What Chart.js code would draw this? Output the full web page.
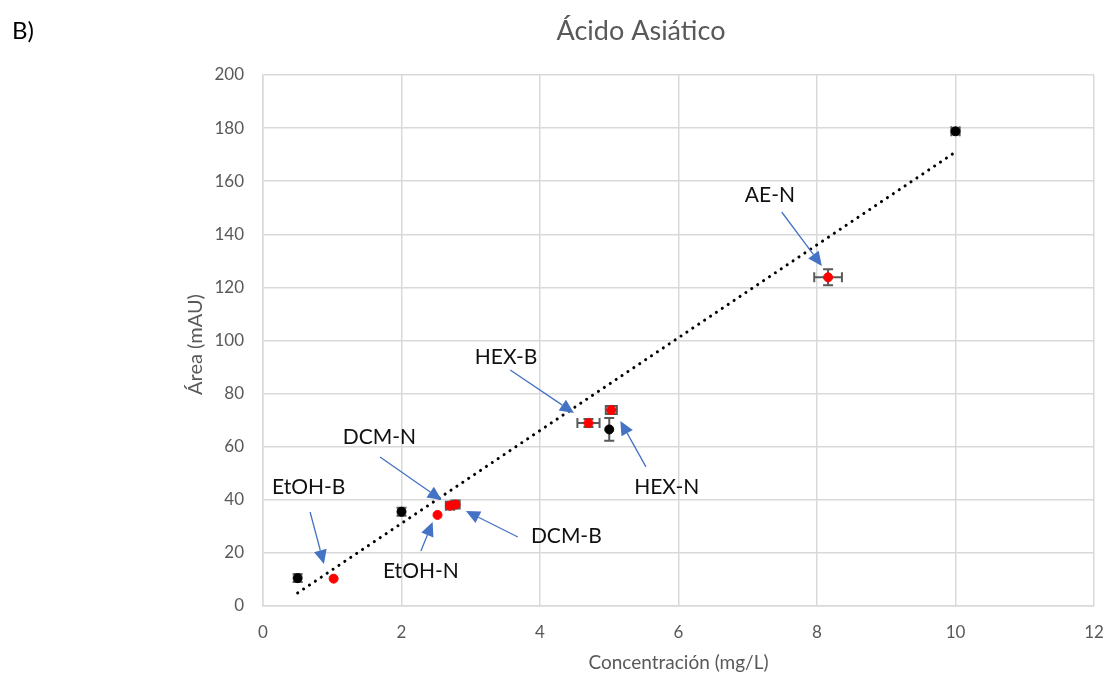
<!DOCTYPE html>
<html>
<head>
<meta charset="utf-8">
<script src="https://cdn.jsdelivr.net/npm/chart.js@4.4.0/dist/chart.umd.min.js"></script>
<style>
  html, body { margin: 0; background: #fff; }
  #wrap { width: 1107px; height: 677px; }
</style>
</head>
<body>
<div id="wrap"><canvas id="chart"></canvas></div>
<script>
// calibration standards (black)
const stdX = [0.5, 2, 5, 10];
const stdY = [10.5, 35.5, 66.5, 178.8];
const stdErrX = [0.04, 0.04, 0, 0.06];
const stdErrY = [1.5, 1.5, 4.3, 1.2];

// extracts (red)
const sampleNames = ['EtOH-B', 'EtOH-N', 'DCM-N', 'DCM-B', 'HEX-B', 'HEX-N', 'AE-N'];
const sampleX = [1.02, 2.52, 2.70, 2.78, 4.70, 5.03, 8.16];
const sampleY = [10.3, 34.3, 37.8, 38.2, 68.9, 73.8, 123.8];
const sampleErrX = [0, 0, 0.06, 0.06, 0.16, 0.08, 0.2];
const sampleErrY = [0, 0, 1.5, 1.5, 1.5, 1.5, 3.0];

// linear trend line end points
const trendX = [0.5, 10];
const trendY = [4.9, 171.0];

const xTicks = [0, 2, 4, 6, 8, 10, 12];
const yTicks = [0, 20, 40, 60, 80, 100, 120, 140, 160, 180, 200];

// callout text and arrow (data units)
const callouts = [
  { name: 'EtOH-B', tx: 0.66, ty: 44.8, from: [0.68, 35.4], to: [0.88, 15.8] },
  { name: 'EtOH-N', tx: 2.28, ty: 13.2, from: [2.28, 20.7], to: [2.45, 31.6] },
  { name: 'DCM-N',  tx: 1.68, ty: 63.7, from: [1.69, 56.1], to: [2.58, 39.9] },
  { name: 'DCM-B',  tx: 4.38, ty: 26.4, from: [3.68, 26.0], to: [2.93, 35.8] },
  { name: 'HEX-B',  tx: 3.51, ty: 93.8, from: [3.57, 88.9], to: [4.49, 72.7] },
  { name: 'HEX-N',  tx: 5.83, ty: 44.8, from: [5.53, 52.4], to: [5.16, 69.7] },
  { name: 'AE-N',   tx: 7.32, ty: 154.8, from: [7.49, 148.4], to: [8.07, 128.1] }
];

const FONT = 'Lato';
const GRAY = '#595959';

const toPoints = (xs, ys) => xs.map((x, i) => ({ x: x, y: ys[i] }));

const errorBars = {
  id: 'errorBars',
  beforeDatasetsDraw(chart) {
    const { ctx, scales: { x, y } } = chart;
    ctx.save();
    ctx.strokeStyle = GRAY;
    ctx.lineWidth = 2;
    chart.data.datasets.forEach(ds => {
      if (!ds.errX) return;
      ds.data.forEach((p, i) => {
        const px = x.getPixelForValue(p.x), py = y.getPixelForValue(p.y);
        const ex = ds.errX[i], ey = ds.errY[i];
        const cap = 5;
        ctx.beginPath();
        if (ex > 0) {
          const l = x.getPixelForValue(p.x - ex), r = x.getPixelForValue(p.x + ex);
          ctx.moveTo(l, py); ctx.lineTo(r, py);
          ctx.moveTo(l, py - cap); ctx.lineTo(l, py + cap);
          ctx.moveTo(r, py - cap); ctx.lineTo(r, py + cap);
        }
        if (ey > 0) {
          const t = y.getPixelForValue(p.y + ey), b = y.getPixelForValue(p.y - ey);
          ctx.moveTo(px, t); ctx.lineTo(px, b);
          ctx.moveTo(px - cap, t); ctx.lineTo(px + cap, t);
          ctx.moveTo(px - cap, b); ctx.lineTo(px + cap, b);
        }
        ctx.stroke();
      });
    });
    ctx.restore();
  }
};

const decorations = {
  id: 'decorations',
  afterDraw(chart) {
    const { ctx, chartArea: a, scales: { x, y } } = chart;
    ctx.save();
    // panel letter and title
    ctx.fillStyle = '#000';
    ctx.font = '24px ' + FONT;
    ctx.textAlign = 'left';
    ctx.textBaseline = 'middle';
    ctx.fillText('B)', 12, 31);
    ctx.fillStyle = GRAY;
    ctx.font = '27px ' + FONT;
    ctx.textAlign = 'center';
    ctx.fillText('Ácido Asiático', 641, 31);
    // axis titles
    ctx.font = '19px ' + FONT;
    ctx.fillText('Concentración (mg/L)', (a.left + a.right) / 2, 663);
    ctx.save();
    ctx.translate(196, (a.top + a.bottom) / 2 + 4);
    ctx.rotate(-Math.PI / 2);
    ctx.font = '20px ' + FONT;
    ctx.fillText('Área (mAU)', 0, 0);
    ctx.restore();
    // callouts
    ctx.font = '21px ' + FONT;
    ctx.fillStyle = '#111';
    callouts.forEach(c => {
      ctx.fillText(c.name, x.getPixelForValue(c.tx), y.getPixelForValue(c.ty));
      const x0 = x.getPixelForValue(c.from[0]), y0 = y.getPixelForValue(c.from[1]);
      const x1 = x.getPixelForValue(c.to[0]), y1 = y.getPixelForValue(c.to[1]);
      const ang = Math.atan2(y1 - y0, x1 - x0);
      const hl = 14, hw = 6.5;
      const bx = x1 - hl * Math.cos(ang), by = y1 - hl * Math.sin(ang);
      ctx.strokeStyle = '#4472C4';
      ctx.lineWidth = 1.3;
      ctx.beginPath();
      ctx.moveTo(x0, y0); ctx.lineTo(bx, by);
      ctx.stroke();
      ctx.fillStyle = '#4472C4';
      ctx.beginPath();
      ctx.moveTo(x1, y1);
      ctx.lineTo(bx + hw * Math.sin(ang), by - hw * Math.cos(ang));
      ctx.lineTo(bx - hw * Math.sin(ang), by + hw * Math.cos(ang));
      ctx.closePath();
      ctx.fill();
      ctx.fillStyle = '#111';
    });
    ctx.restore();
  }
};

new Chart(document.getElementById('chart'), {
  type: 'scatter',
  data: {
    datasets: [
      {
        label: 'Tendencia',
        type: 'line',
        data: toPoints(trendX, trendY),
        borderColor: '#000',
        borderWidth: 3,
        borderDash: [0.1, 7],
        borderCapStyle: 'round',
        pointRadius: 0,
        fill: false
      },
      {
        label: 'Estándares',
        data: toPoints(stdX, stdY),
        errX: stdErrX,
        errY: stdErrY,
        backgroundColor: '#000',
        borderColor: '#000',
        pointRadius: 4.5
      },
      {
        label: 'Extractos',
        data: toPoints(sampleX, sampleY),
        errX: sampleErrX,
        errY: sampleErrY,
        backgroundColor: '#ff0000',
        borderColor: '#ff0000',
        pointRadius: 4.5
      }
    ]
  },
  options: {
    responsive: true,
    maintainAspectRatio: false,
    animation: false,
    layout: { padding: { left: 0, top: 75, right: 13, bottom: 0 } },
    plugins: { legend: { display: false }, tooltip: { enabled: false } },
    scales: {
      x: {
        type: 'linear',
        min: 0,
        max: 12,
        afterBuildTicks: s => { s.ticks = xTicks.map(v => ({ value: v })); },
        afterFit: s => { s.height = 71; s.paddingLeft = 0; s.paddingRight = 0; },
        grid: { color: '#d9d9d9', lineWidth: 1.5, drawTicks: false },
        border: { color: '#d9d9d9', width: 1.5 },
        ticks: { color: GRAY, font: { family: FONT, size: 17 }, padding: 16 }
      },
      y: {
        min: 0,
        max: 200,
        afterBuildTicks: s => { s.ticks = yTicks.map(v => ({ value: v })); },
        afterFit: s => { s.width = 263; s.paddingTop = 0; s.paddingBottom = 0; },
        grid: { color: '#d9d9d9', lineWidth: 1.5, drawTicks: false },
        border: { color: '#d9d9d9', width: 1.5 },
        ticks: { color: GRAY, font: { family: FONT, size: 17 }, padding: 19 }
      }
    }
  },
  plugins: [errorBars, decorations]
});
</script>
</body>
</html>
